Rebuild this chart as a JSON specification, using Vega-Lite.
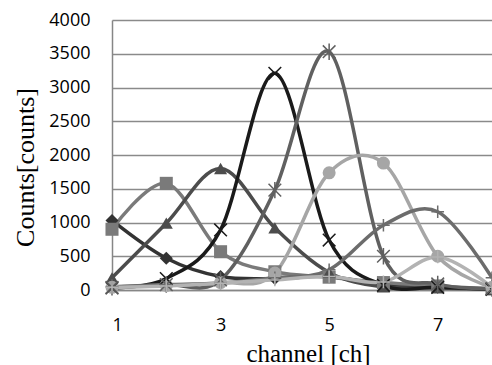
{
  "$schema": "https://vega.github.io/schema/vega-lite/v6.json",
  "width": 380,
  "height": 270,
  "autosize": {"type": "none"},
  "padding": {"left": 112, "top": 20, "right": 0, "bottom": 75},
  "background": "white",
  "config": {"view": {"stroke": null}},
  "data": {"values": [
    {"s":"s1","ch":1,"v":1030},{"s":"s1","ch":2,"v":470},{"s":"s1","ch":3,"v":200},{"s":"s1","ch":4,"v":170},{"s":"s1","ch":5,"v":200},{"s":"s1","ch":6,"v":70},{"s":"s1","ch":7,"v":40},{"s":"s1","ch":8,"v":20},
    {"s":"s2","ch":1,"v":900},{"s":"s2","ch":2,"v":1580},{"s":"s2","ch":3,"v":567},{"s":"s2","ch":4,"v":270},{"s":"s2","ch":5,"v":190},{"s":"s2","ch":6,"v":110},{"s":"s2","ch":7,"v":60},{"s":"s2","ch":8,"v":15},
    {"s":"s3","ch":1,"v":180},{"s":"s3","ch":2,"v":990},{"s":"s3","ch":3,"v":1800},{"s":"s3","ch":4,"v":920},{"s":"s3","ch":5,"v":260},{"s":"s3","ch":6,"v":45},{"s":"s3","ch":7,"v":30},{"s":"s3","ch":8,"v":10},
    {"s":"s4","ch":1,"v":30},{"s":"s4","ch":2,"v":170},{"s":"s4","ch":3,"v":890},{"s":"s4","ch":4,"v":3210},{"s":"s4","ch":5,"v":740},{"s":"s4","ch":6,"v":70},{"s":"s4","ch":7,"v":40},{"s":"s4","ch":8,"v":10},
    {"s":"s5","ch":1,"v":40},{"s":"s5","ch":2,"v":80},{"s":"s5","ch":3,"v":150},{"s":"s5","ch":4,"v":1480},{"s":"s5","ch":5,"v":3530},{"s":"s5","ch":6,"v":500},{"s":"s5","ch":7,"v":90},{"s":"s5","ch":8,"v":20},
    {"s":"s6","ch":1,"v":40},{"s":"s6","ch":2,"v":70},{"s":"s6","ch":3,"v":110},{"s":"s6","ch":4,"v":250},{"s":"s6","ch":5,"v":1736},{"s":"s6","ch":6,"v":1880},{"s":"s6","ch":7,"v":500},{"s":"s6","ch":8,"v":40},
    {"s":"s7","ch":1,"v":50},{"s":"s7","ch":2,"v":80},{"s":"s7","ch":3,"v":100},{"s":"s7","ch":4,"v":180},{"s":"s7","ch":5,"v":300},{"s":"s7","ch":6,"v":960},{"s":"s7","ch":7,"v":1160},{"s":"s7","ch":8,"v":180},
    {"s":"s8","ch":1,"v":40},{"s":"s8","ch":2,"v":60},{"s":"s8","ch":3,"v":100},{"s":"s8","ch":4,"v":150},{"s":"s8","ch":5,"v":200},{"s":"s8","ch":6,"v":120},{"s":"s8","ch":7,"v":490},{"s":"s8","ch":8,"v":40}
  ]},
  "encoding": {
    "x": {"field": "ch", "type": "quantitative",
      "scale": {"domain": [1, 8], "nice": false, "zero": false},
      "axis": {"values": [1, 3, 5, 7], "grid": false, "ticks": false, "tickSize": 0,
        "labelFont": "Open Sans", "labelFontSize": 18, "labelColor": "#000000", "labelPadding": 26,
        "domainColor": "#868686", "domainWidth": 1.5,
        "title": "channel [ch]", "titleFont": "Liberation Serif", "titleFontSize": 25, "titleFontWeight": "normal", "titleColor": "#000000",
        "titleX": 196, "titleY": 71, "titleAlign": "center", "titleBaseline": "alphabetic"}},
    "y": {"field": "v", "type": "quantitative",
      "scale": {"domain": [0, 4000], "nice": false},
      "axis": {"values": [0, 500, 1000, 1500, 2000, 2500, 3000, 3500, 4000], "format": "d",
        "grid": true, "gridColor": "#8a8a8a", "gridWidth": 1.3, "ticks": false, "tickSize": 0,
        "labelFont": "Open Sans", "labelFontSize": 18, "labelColor": "#000000", "labelPadding": 22,
        "domainColor": "#868686", "domainWidth": 1.5,
        "title": "Counts[counts]", "titleFont": "Liberation Serif", "titleFontSize": 26, "titleFontWeight": "normal", "titleColor": "#000000",
        "titleX": -79, "titleY": 147, "titleAngle": -90, "titleAlign": "center", "titleBaseline": "alphabetic"}},
    "color": {"field": "s", "type": "nominal",
      "scale": {"domain": ["s1","s2","s3","s4","s5","s6","s7","s8"],
        "range": ["#333333","#7a7a7a","#4c4c4c","#1a1a1a","#606060","#a6a6a6","#6c6c6c","#b3b3b3"]},
      "legend": null}
  },
  "layer": [
    {"mark": {"type": "line", "interpolate": "cardinal", "strokeWidth": 3.5}},
    {"transform": [{"filter": {"field": "s", "oneOf": ["s1","s2","s3","s6"]}}],
     "mark": {"type": "point", "filled": true, "opacity": 1, "size": 170},
     "encoding": {"shape": {"field": "s", "type": "nominal",
       "scale": {"domain": ["s1","s2","s3","s4","s5","s6","s7","s8"],
         "range": ["diamond","square","triangle-up","M-1,-1L1,1M-1,1L1,-1","M-1,-1L1,1M-1,1L1,-1M0,-1.3L0,1.3","circle","M-1,0L1,0M0,-1L0,1","M-1,0L1,0M0,-1L0,1"]},
       "legend": null}}},
    {"transform": [{"filter": {"field": "s", "oneOf": ["s4","s5","s7","s8"]}}],
     "mark": {"type": "point", "filled": false, "opacity": 1, "size": 160, "strokeWidth": 1.5},
     "encoding": {"shape": {"field": "s", "type": "nominal",
       "scale": {"domain": ["s1","s2","s3","s4","s5","s6","s7","s8"],
         "range": ["diamond","square","triangle-up","M-1,-1L1,1M-1,1L1,-1","M-1,-1L1,1M-1,1L1,-1M0,-1.3L0,1.3","circle","M-1,0L1,0M0,-1L0,1","M-1,0L1,0M0,-1L0,1"]},
       "legend": null}}}
  ]
}
